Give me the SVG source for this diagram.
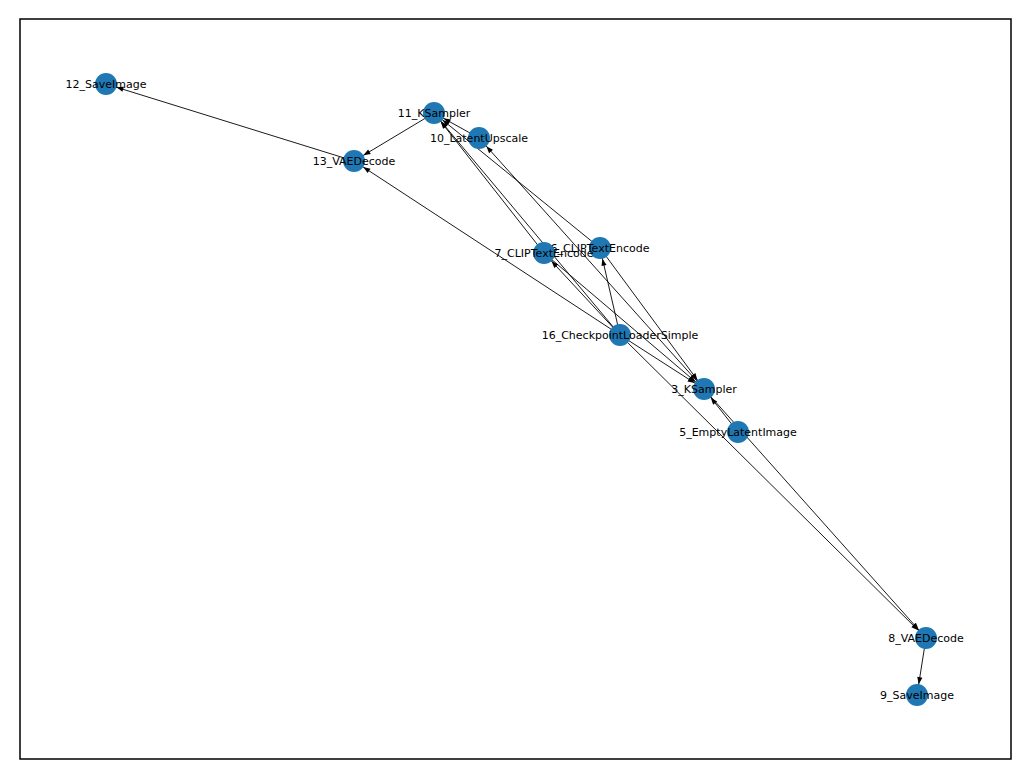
<svg xmlns="http://www.w3.org/2000/svg" width="1031" height="779" viewBox="0 0 1031 779">
<style>
.e{stroke:#000;stroke-width:0.9;fill:none;marker-end:url(#ah)}
.n circle{fill:#1f78b4}
.n text{font-family:"DejaVu Sans",sans-serif;font-size:11px;fill:#000;text-anchor:middle;dominant-baseline:central}
</style>
<defs>
<marker id="ah" markerUnits="userSpaceOnUse" viewBox="-10 -5 25 10" markerWidth="25" markerHeight="10" refX="11" refY="0" orient="auto" overflow="visible">
<path d="M0,0 L-7,-2.6 L-7,2.6 z" fill="#000"/>
</marker>
</defs>
<rect x="0" y="0" width="1031" height="779" fill="#fff"/>
<rect x="20" y="19" width="991" height="740" fill="none" stroke="#000" stroke-width="1.5"/>
<g id="connectors">
<line class="e" x1="620" y1="335" x2="704" y2="389"/>
<line class="e" x1="620" y1="335" x2="600" y2="248"/>
<line class="e" x1="620" y1="335" x2="544" y2="253"/>
<line class="e" x1="620" y1="335" x2="926" y2="638"/>
<line class="e" x1="620" y1="335" x2="434" y2="113"/>
<line class="e" x1="620" y1="335" x2="354" y2="161"/>
<line class="e" x1="600" y1="248" x2="704" y2="389"/>
<line class="e" x1="544" y1="253" x2="704" y2="389"/>
<line class="e" x1="738" y1="432" x2="704" y2="389"/>
<line class="e" x1="704" y1="389" x2="926" y2="638"/>
<line class="e" x1="926" y1="638" x2="917" y2="695"/>
<line class="e" x1="704" y1="389" x2="479" y2="138"/>
<line class="e" x1="479" y1="138" x2="434" y2="113"/>
<line class="e" x1="600" y1="248" x2="434" y2="113"/>
<line class="e" x1="544" y1="253" x2="434" y2="113"/>
<line class="e" x1="434" y1="113" x2="354" y2="161"/>
<line class="e" x1="354" y1="161" x2="106" y2="84"/>
</g>
<g id="node-12" class="n"><circle cx="106" cy="84" r="11"/><text x="106" y="84">12_SaveImage</text></g>
<g id="node-11" class="n"><circle cx="434" cy="113" r="11"/><text x="434" y="113">11_KSampler</text></g>
<g id="node-10" class="n"><circle cx="479" cy="138" r="11"/><text x="479" y="138">10_LatentUpscale</text></g>
<g id="node-13" class="n"><circle cx="354" cy="161" r="11"/><text x="354" y="161">13_VAEDecode</text></g>
<g id="node-6" class="n"><circle cx="600" cy="248" r="11"/><text x="600" y="248">6_CLIPTextEncode</text></g>
<g id="node-7" class="n"><circle cx="544" cy="253" r="11"/><text x="544" y="253">7_CLIPTextEncode</text></g>
<g id="node-16" class="n"><circle cx="620" cy="335" r="11"/><text x="620" y="335">16_CheckpointLoaderSimple</text></g>
<g id="node-3" class="n"><circle cx="704" cy="389" r="11"/><text x="704" y="389">3_KSampler</text></g>
<g id="node-5" class="n"><circle cx="738" cy="432" r="11"/><text x="738" y="432">5_EmptyLatentImage</text></g>
<g id="node-8" class="n"><circle cx="926" cy="638" r="11"/><text x="926" y="638">8_VAEDecode</text></g>
<g id="node-9" class="n"><circle cx="917" cy="695" r="11"/><text x="917" y="695">9_SaveImage</text></g>
</svg>
